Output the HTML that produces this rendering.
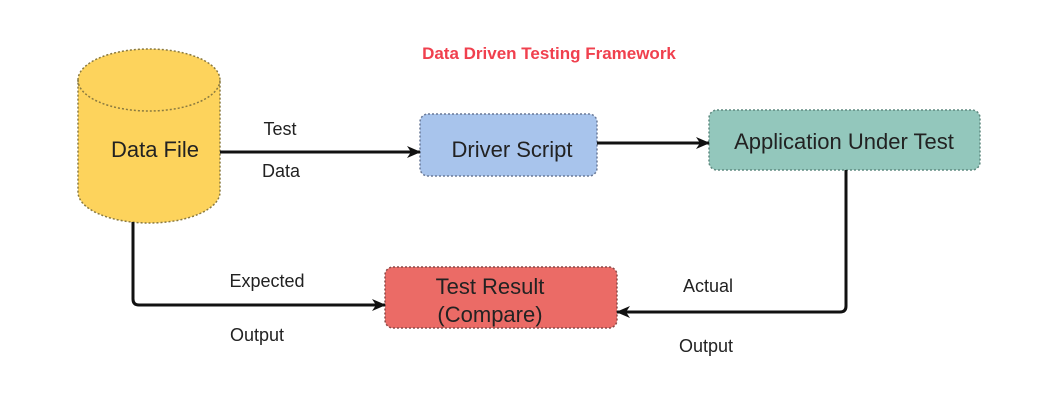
<!DOCTYPE html>
<html><head><style>
body{margin:0;background:#fff;}
svg text{font-family:"Liberation Sans",sans-serif;}
</style></head><body>
<svg width="1045" height="405" viewBox="0 0 1045 405" xmlns="http://www.w3.org/2000/svg">
<defs><marker id="a" markerWidth="14" markerHeight="14" refX="13" refY="7" orient="auto" markerUnits="userSpaceOnUse"><path d="M0,1 L14,7 L0,13 L4,7 Z" fill="#111"/></marker></defs>
<rect width="1045" height="405" fill="#fff"/>
<text x="549" y="59" font-size="17" font-weight="bold" fill="#f0404e" text-anchor="middle">Data Driven Testing Framework</text>
<path d="M78,80 A71,31 0 0 1 220,80 L220,192 A71,31 0 0 1 78,192 Z" fill="#fdd35c" stroke="#8a7a40" stroke-width="1.5" stroke-dasharray="2,2"/>
<path d="M78,80 A71,31 0 0 0 220,80" fill="none" stroke="#8a7a40" stroke-width="1.5" stroke-dasharray="2,2"/>
<text x="155" y="157" font-size="22" fill="#222" text-anchor="middle">Data File</text>
<rect x="420" y="114" width="177" height="62" rx="8" fill="#a8c4ec" stroke="#6a7a98" stroke-width="1.5" stroke-dasharray="2,2"/>
<text x="512" y="157" font-size="22" fill="#222" text-anchor="middle">Driver Script</text>
<rect x="709" y="110" width="271" height="60" rx="8" fill="#93c7bc" stroke="#5f8a80" stroke-width="1.5" stroke-dasharray="2,2"/>
<text x="844" y="149" font-size="22" fill="#222" text-anchor="middle">Application Under Test</text>
<rect x="385" y="267" width="232" height="61" rx="8" fill="#eb6b66" stroke="#8a4a48" stroke-width="1.5" stroke-dasharray="2,2"/>
<text x="490" y="294" font-size="22" fill="#222" text-anchor="middle">Test Result</text>
<text x="490" y="322" font-size="22" fill="#222" text-anchor="middle">(Compare)</text>
<g stroke="#111" stroke-width="3" fill="none">
<line x1="220" y1="152" x2="420" y2="152" marker-end="url(#a)"/>
<line x1="597" y1="143" x2="709" y2="143" marker-end="url(#a)"/>
<path d="M133,222 L133,299 Q133,305 139,305 L385,305" marker-end="url(#a)"/>
<path d="M846,170 L846,306 Q846,312 840,312 L617,312" marker-end="url(#a)"/>
</g>
<g font-size="18" fill="#222" text-anchor="middle">
<text x="280" y="135">Test</text>
<text x="281" y="177">Data</text>
<text x="267" y="287">Expected</text>
<text x="257" y="341">Output</text>
<text x="708" y="292">Actual</text>
<text x="706" y="352">Output</text>
</g>
</svg>
</body></html>
